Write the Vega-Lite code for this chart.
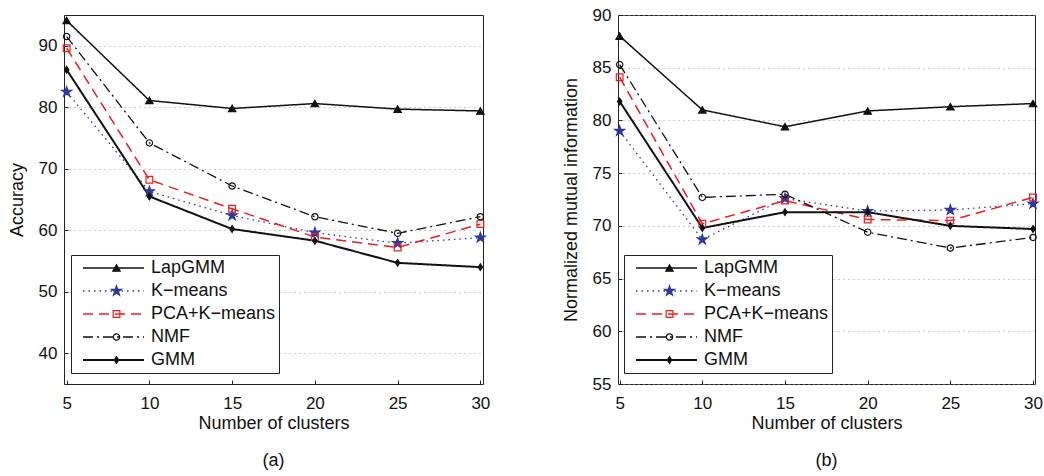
{
  "$schema": "https://vega.github.io/schema/vega-lite/v6.json",
  "padding": {"left": 7, "top": 5, "right": 0, "bottom": 0},
  "bounds": "flush",
  "spacing": 135,
  "background": "white",
  "resolve": {
    "scale": {"color": "independent", "strokeDash": "independent", "strokeWidth": "independent", "shape": "independent", "stroke": "independent", "fill": "independent", "size": "independent"},
    "legend": {"color": "independent", "strokeDash": "independent", "strokeWidth": "independent", "shape": "independent", "stroke": "independent", "fill": "independent", "size": "independent"}
  },
  "datasets": {
    "acc": [
      {"clusters": 5, "method": "LapGMM", "value": 94.1},
      {"clusters": 10, "method": "LapGMM", "value": 81.1},
      {"clusters": 15, "method": "LapGMM", "value": 79.8},
      {"clusters": 20, "method": "LapGMM", "value": 80.6},
      {"clusters": 25, "method": "LapGMM", "value": 79.7},
      {"clusters": 30, "method": "LapGMM", "value": 79.4},
      {"clusters": 5, "method": "K−means", "value": 82.5},
      {"clusters": 10, "method": "K−means", "value": 66.3},
      {"clusters": 15, "method": "K−means", "value": 62.4},
      {"clusters": 20, "method": "K−means", "value": 59.6},
      {"clusters": 25, "method": "K−means", "value": 57.9},
      {"clusters": 30, "method": "K−means", "value": 58.8},
      {"clusters": 5, "method": "PCA+K−means", "value": 89.6},
      {"clusters": 10, "method": "PCA+K−means", "value": 68.2},
      {"clusters": 15, "method": "PCA+K−means", "value": 63.5},
      {"clusters": 20, "method": "PCA+K−means", "value": 58.9},
      {"clusters": 25, "method": "PCA+K−means", "value": 57.2},
      {"clusters": 30, "method": "PCA+K−means", "value": 61.0},
      {"clusters": 5, "method": "NMF", "value": 91.5},
      {"clusters": 10, "method": "NMF", "value": 74.2},
      {"clusters": 15, "method": "NMF", "value": 67.2},
      {"clusters": 20, "method": "NMF", "value": 62.2},
      {"clusters": 25, "method": "NMF", "value": 59.5},
      {"clusters": 30, "method": "NMF", "value": 62.2},
      {"clusters": 5, "method": "GMM", "value": 86.1},
      {"clusters": 10, "method": "GMM", "value": 65.5},
      {"clusters": 15, "method": "GMM", "value": 60.2},
      {"clusters": 20, "method": "GMM", "value": 58.3},
      {"clusters": 25, "method": "GMM", "value": 54.7},
      {"clusters": 30, "method": "GMM", "value": 54.0}
    ],
    "nmi": [
      {"clusters": 5, "method": "LapGMM", "value": 88.0},
      {"clusters": 10, "method": "LapGMM", "value": 81.0},
      {"clusters": 15, "method": "LapGMM", "value": 79.4},
      {"clusters": 20, "method": "LapGMM", "value": 80.9},
      {"clusters": 25, "method": "LapGMM", "value": 81.3},
      {"clusters": 30, "method": "LapGMM", "value": 81.6},
      {"clusters": 5, "method": "K−means", "value": 79.0},
      {"clusters": 10, "method": "K−means", "value": 68.7},
      {"clusters": 15, "method": "K−means", "value": 72.6},
      {"clusters": 20, "method": "K−means", "value": 71.4},
      {"clusters": 25, "method": "K−means", "value": 71.5},
      {"clusters": 30, "method": "K−means", "value": 72.1},
      {"clusters": 5, "method": "PCA+K−means", "value": 84.1},
      {"clusters": 10, "method": "PCA+K−means", "value": 70.2},
      {"clusters": 15, "method": "PCA+K−means", "value": 72.4},
      {"clusters": 20, "method": "PCA+K−means", "value": 70.6},
      {"clusters": 25, "method": "PCA+K−means", "value": 70.5},
      {"clusters": 30, "method": "PCA+K−means", "value": 72.7},
      {"clusters": 5, "method": "NMF", "value": 85.3},
      {"clusters": 10, "method": "NMF", "value": 72.7},
      {"clusters": 15, "method": "NMF", "value": 73.0},
      {"clusters": 20, "method": "NMF", "value": 69.4},
      {"clusters": 25, "method": "NMF", "value": 67.9},
      {"clusters": 30, "method": "NMF", "value": 68.9},
      {"clusters": 5, "method": "GMM", "value": 81.8},
      {"clusters": 10, "method": "GMM", "value": 69.8},
      {"clusters": 15, "method": "GMM", "value": 71.3},
      {"clusters": 20, "method": "GMM", "value": 71.3},
      {"clusters": 25, "method": "GMM", "value": 70.0},
      {"clusters": 30, "method": "GMM", "value": 69.7}
    ]
  },
  "config": {
    "font": "Liberation Sans",
    "view": {"stroke": "#222", "strokeWidth": 1},
    "axis": {
      "labelFont": "Liberation Sans",
      "labelFontSize": 17,
      "labelColor": "#111",
      "titleFont": "Liberation Sans",
      "titleFontSize": 18,
      "titleFontWeight": "normal",
      "titleColor": "#111",
      "domain": false,
      "tickColor": "#222",
      "tickSize": -4,
      "gridColor": "#999",
      "gridDash": [1, 4],
      "gridWidth": 1
    },
    "title": {"font": "Liberation Sans", "fontSize": 18, "fontWeight": "normal", "color": "#111"}
  },
  "hconcat": [
    {
      "width": 419,
      "height": 369,
      "title": {"text": "(a)", "orient": "bottom", "offset": 20},
      "data": {"name": "acc"},
      "layer": [
        {
          "mark": {"type": "line"},
          "encoding": {
            "x": {"field": "clusters", "type": "quantitative",
              "scale": {"domain": [4.84, 30.16], "nice": false, "zero": false},
              "axis": {"values": [5, 10, 15, 20, 25, 30], "grid": false, "title": "Number of clusters", "labelPadding": 15, "titlePadding": 3, "labelFlush": false}},
            "y": {"field": "value", "type": "quantitative",
              "scale": {"domain": [35, 95], "nice": false, "zero": false},
              "axis": {"values": [40, 50, 60, 70, 80, 90], "grid": true, "title": "Accuracy", "labelPadding": 11, "titlePadding": 12, "minExtent": 26, "maxExtent": 26}},
            "color": {"field": "method", "type": "nominal",
              "scale": {"domain": ["LapGMM", "K−means", "PCA+K−means", "NMF", "GMM"], "range": ["#111111", "#2c3a9e", "#ee1c1c", "#111111", "#111111"]},
              "legend": {"orient": "none", "legendX": 7, "legendY": 240, "title": null, "direction": "vertical", "symbolType": "stroke", "symbolSize": 3721, "clipHeight": 20, "rowPadding": 3, "padding": 3, "symbolOffset": 8, "labelOffset": 6, "labelFontSize": 18, "labelFont": "Liberation Sans", "labelColor": "#111", "strokeColor": "#222", "fillColor": "white", "labelLimit": 300}},
            "strokeDash": {"field": "method", "type": "nominal",
              "scale": {"domain": ["LapGMM", "K−means", "PCA+K−means", "NMF", "GMM"], "range": [[1, 0], [1.5, 4], [10, 6], [10, 4, 2, 4], [1, 0]]},
              "legend": {"orient": "none", "legendX": 7, "legendY": 240, "title": null, "direction": "vertical", "symbolType": "stroke", "symbolSize": 3721, "clipHeight": 20, "rowPadding": 3, "padding": 3, "symbolOffset": 8, "labelOffset": 6, "labelFontSize": 18, "labelFont": "Liberation Sans", "labelColor": "#111", "strokeColor": "#222", "fillColor": "white", "labelLimit": 300}},
            "strokeWidth": {"field": "method", "type": "nominal",
              "scale": {"type": "ordinal", "domain": ["LapGMM", "K−means", "PCA+K−means", "NMF", "GMM"], "range": [1.5, 1.3, 1.5, 1.3, 2]},
              "legend": {"orient": "none", "legendX": 7, "legendY": 240, "title": null, "direction": "vertical", "symbolType": "stroke", "symbolSize": 3721, "clipHeight": 20, "rowPadding": 3, "padding": 3, "symbolOffset": 8, "labelOffset": 6, "labelFontSize": 18, "labelFont": "Liberation Sans", "labelColor": "#111", "strokeColor": "#222", "fillColor": "white", "labelLimit": 300}}
          }
        },
        {
          "mark": {"type": "point", "opacity": 1, "strokeWidth": 1.2},
          "encoding": {
            "x": {"field": "clusters", "type": "quantitative"},
            "y": {"field": "value", "type": "quantitative"},
            "shape": {"field": "method", "type": "nominal", "sort": null,
              "scale": {"range": ["triangle-up", "M0,-1L0.2245,-0.309L0.951,-0.309L0.363,0.118L0.588,0.809L0,0.382L-0.588,0.809L-0.363,0.118L-0.951,-0.309L-0.2245,-0.309Z", "square", "circle", "M0,-1L0.65,0L0,1L-0.65,0Z"]},
              "legend": {"orient": "none", "legendX": 7, "legendY": 240, "title": null, "direction": "vertical", "clipHeight": 20, "rowPadding": 3, "padding": 3, "symbolOffset": 33.5, "labelOffset": 6, "labelFontSize": 18, "labelFont": "Liberation Sans", "labelExpr": "''", "symbolStrokeWidth": 1.2, "labelLimit": 300}},
            "stroke": {"field": "method", "type": "nominal", "sort": null,
              "scale": {"range": ["#111111", "#2c3a9e", "#ee1c1c", "#111111", "#111111"]},
              "legend": {"orient": "none", "legendX": 7, "legendY": 240, "title": null, "direction": "vertical", "clipHeight": 20, "rowPadding": 3, "padding": 3, "symbolOffset": 33.5, "labelOffset": 6, "labelFontSize": 18, "labelFont": "Liberation Sans", "labelExpr": "''", "symbolStrokeWidth": 1.2, "labelLimit": 300}},
            "fill": {"field": "method", "type": "nominal", "sort": null,
              "scale": {"range": ["#111111", "#2c3a9e", "transparent", "transparent", "#111111"]},
              "legend": {"orient": "none", "legendX": 7, "legendY": 240, "title": null, "direction": "vertical", "clipHeight": 20, "rowPadding": 3, "padding": 3, "symbolOffset": 33.5, "labelOffset": 6, "labelFontSize": 18, "labelFont": "Liberation Sans", "labelExpr": "''", "symbolStrokeWidth": 1.2, "labelLimit": 300}},
            "size": {"field": "method", "type": "nominal", "sort": null,
              "scale": {"type": "ordinal", "range": [55, 110, 45, 40, 45]},
              "legend": {"orient": "none", "legendX": 7, "legendY": 240, "title": null, "direction": "vertical", "clipHeight": 20, "rowPadding": 3, "padding": 3, "symbolOffset": 33.5, "labelOffset": 6, "labelFontSize": 18, "labelFont": "Liberation Sans", "labelExpr": "''", "symbolStrokeWidth": 1.2, "labelLimit": 300}}
          }
        }
      ]
    },
    {
      "width": 417,
      "height": 369,
      "title": {"text": "(b)", "orient": "bottom", "offset": 20},
      "data": {"name": "nmi"},
      "layer": [
        {
          "mark": {"type": "line"},
          "encoding": {
            "x": {"field": "clusters", "type": "quantitative",
              "scale": {"domain": [4.9, 30.12], "nice": false, "zero": false},
              "axis": {"values": [5, 10, 15, 20, 25, 30], "grid": false, "title": "Number of clusters", "labelPadding": 15, "titlePadding": 3, "labelFlush": false}},
            "y": {"field": "value", "type": "quantitative",
              "scale": {"domain": [55, 90], "nice": false, "zero": false},
              "axis": {"values": [55, 60, 65, 70, 75, 80, 85, 90], "grid": true, "title": "Normalized mutual information", "labelPadding": 11, "titlePadding": 12, "minExtent": 26, "maxExtent": 26}},
            "color": {"field": "method", "type": "nominal",
              "scale": {"domain": ["LapGMM", "K−means", "PCA+K−means", "NMF", "GMM"], "range": ["#111111", "#2c3a9e", "#ee1c1c", "#111111", "#111111"]},
              "legend": {"orient": "none", "legendX": 6, "legendY": 240, "title": null, "direction": "vertical", "symbolType": "stroke", "symbolSize": 3721, "clipHeight": 20, "rowPadding": 3, "padding": 3, "symbolOffset": 8, "labelOffset": 6, "labelFontSize": 18, "labelFont": "Liberation Sans", "labelColor": "#111", "strokeColor": "#222", "fillColor": "white", "labelLimit": 300}},
            "strokeDash": {"field": "method", "type": "nominal",
              "scale": {"domain": ["LapGMM", "K−means", "PCA+K−means", "NMF", "GMM"], "range": [[1, 0], [1.5, 4], [10, 6], [10, 4, 2, 4], [1, 0]]},
              "legend": {"orient": "none", "legendX": 6, "legendY": 240, "title": null, "direction": "vertical", "symbolType": "stroke", "symbolSize": 3721, "clipHeight": 20, "rowPadding": 3, "padding": 3, "symbolOffset": 8, "labelOffset": 6, "labelFontSize": 18, "labelFont": "Liberation Sans", "labelColor": "#111", "strokeColor": "#222", "fillColor": "white", "labelLimit": 300}},
            "strokeWidth": {"field": "method", "type": "nominal",
              "scale": {"type": "ordinal", "domain": ["LapGMM", "K−means", "PCA+K−means", "NMF", "GMM"], "range": [1.5, 1.3, 1.5, 1.3, 2]},
              "legend": {"orient": "none", "legendX": 6, "legendY": 240, "title": null, "direction": "vertical", "symbolType": "stroke", "symbolSize": 3721, "clipHeight": 20, "rowPadding": 3, "padding": 3, "symbolOffset": 8, "labelOffset": 6, "labelFontSize": 18, "labelFont": "Liberation Sans", "labelColor": "#111", "strokeColor": "#222", "fillColor": "white", "labelLimit": 300}}
          }
        },
        {
          "mark": {"type": "point", "opacity": 1, "strokeWidth": 1.2},
          "encoding": {
            "x": {"field": "clusters", "type": "quantitative"},
            "y": {"field": "value", "type": "quantitative"},
            "shape": {"field": "method", "type": "nominal", "sort": null,
              "scale": {"range": ["triangle-up", "M0,-1L0.2245,-0.309L0.951,-0.309L0.363,0.118L0.588,0.809L0,0.382L-0.588,0.809L-0.363,0.118L-0.951,-0.309L-0.2245,-0.309Z", "square", "circle", "M0,-1L0.65,0L0,1L-0.65,0Z"]},
              "legend": {"orient": "none", "legendX": 6, "legendY": 240, "title": null, "direction": "vertical", "clipHeight": 20, "rowPadding": 3, "padding": 3, "symbolOffset": 33.5, "labelOffset": 6, "labelFontSize": 18, "labelFont": "Liberation Sans", "labelExpr": "''", "symbolStrokeWidth": 1.2, "labelLimit": 300}},
            "stroke": {"field": "method", "type": "nominal", "sort": null,
              "scale": {"range": ["#111111", "#2c3a9e", "#ee1c1c", "#111111", "#111111"]},
              "legend": {"orient": "none", "legendX": 6, "legendY": 240, "title": null, "direction": "vertical", "clipHeight": 20, "rowPadding": 3, "padding": 3, "symbolOffset": 33.5, "labelOffset": 6, "labelFontSize": 18, "labelFont": "Liberation Sans", "labelExpr": "''", "symbolStrokeWidth": 1.2, "labelLimit": 300}},
            "fill": {"field": "method", "type": "nominal", "sort": null,
              "scale": {"range": ["#111111", "#2c3a9e", "transparent", "transparent", "#111111"]},
              "legend": {"orient": "none", "legendX": 6, "legendY": 240, "title": null, "direction": "vertical", "clipHeight": 20, "rowPadding": 3, "padding": 3, "symbolOffset": 33.5, "labelOffset": 6, "labelFontSize": 18, "labelFont": "Liberation Sans", "labelExpr": "''", "symbolStrokeWidth": 1.2, "labelLimit": 300}},
            "size": {"field": "method", "type": "nominal", "sort": null,
              "scale": {"type": "ordinal", "range": [55, 110, 45, 40, 45]},
              "legend": {"orient": "none", "legendX": 6, "legendY": 240, "title": null, "direction": "vertical", "clipHeight": 20, "rowPadding": 3, "padding": 3, "symbolOffset": 33.5, "labelOffset": 6, "labelFontSize": 18, "labelFont": "Liberation Sans", "labelExpr": "''", "symbolStrokeWidth": 1.2, "labelLimit": 300}}
          }
        }
      ]
    }
  ]
}
